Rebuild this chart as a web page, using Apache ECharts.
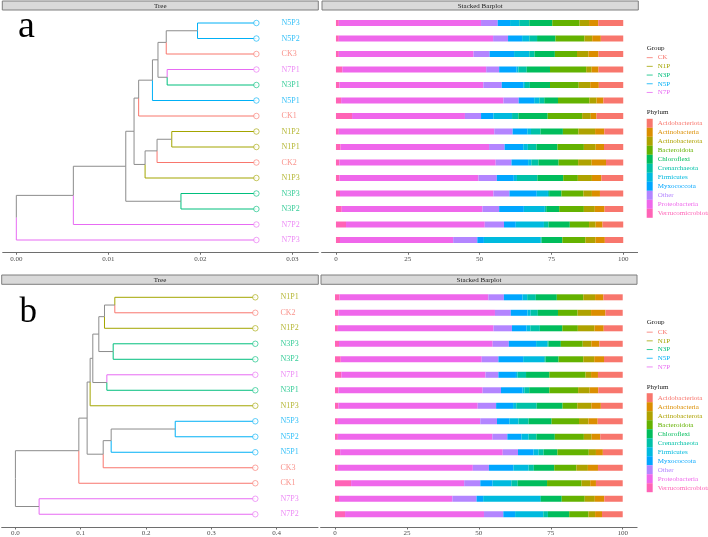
<!DOCTYPE html>
<html>
<head>
<meta charset="utf-8">
<script src="https://cdn.jsdelivr.net/npm/echarts@6/dist/echarts.min.js"></script>
<style>html,body{margin:0;padding:0;background:#fff}#c{width:708px;height:537px}</style>
</head>
<body>
<div id="c"></div>
<script>
// ---------- data ----------
const groupNames = ['CK', 'N1P', 'N3P', 'N5P', 'N7P'];
const groupColors = ['#F8766D', '#A3A500', '#00BF7D', '#00B0F6', '#E76BF3'];

// legend order (alphabetical); bars stack in reverse order from the left
const phylumNames = ['Acidobacteriota', 'Actinobacteria', 'Actinobacterota', 'Bacteroidota', 'Chloroflexi',
  'Crenarchaeota', 'Firmicutes', 'Myxococcota', 'Other', 'Proteobacteria', 'Verrucomicrobiota'];
const phylumColors = ['#F8766D', '#DB8E00', '#AEA200', '#64B200', '#00BD5C',
  '#00C1A7', '#00BADE', '#00A6FF', '#B385FF', '#EF67EB', '#FF63B6'];

const samples = ['N5P3', 'N5P2', 'CK3', 'N7P1', 'N3P1', 'N5P1', 'CK1', 'N1P2', 'N1P1', 'CK2', 'N1P3', 'N3P3', 'N3P2', 'N7P2', 'N7P3'];
const acidobacteriota   = [8.7, 7.8, 8.6, 8.6, 8.5, 6.9, 9.3, 6.6, 6.7, 6.0, 7.6, 8.1, 6.5, 7.2, 6.4];
const actinobacteria    = [3.2, 3.0, 3.5, 2.4, 3.0, 2.4, 2.0, 3.2, 2.9, 5.0, 3.3, 2.8, 3.4, 2.4, 3.3];
const actinobacterota   = [3.3, 2.7, 4.0, 1.9, 4.0, 2.5, 3.0, 5.8, 4.1, 4.7, 4.9, 3.0, 3.8, 2.3, 3.5];
const bacteroidota      = [9.5, 10.1, 7.7, 12.6, 10.0, 10.9, 12.0, 5.4, 9.2, 6.8, 5.1, 7.6, 8.6, 6.7, 8.0];
const chloroflexi       = [8.0, 6.4, 7.1, 8.1, 7.0, 4.8, 10.2, 7.8, 7.3, 7.0, 9.0, 4.3, 4.5, 7.4, 7.2];
const crenarchaeota     = [3.5, 2.7, 1.8, 2.9, 1.7, 1.7, 2.2, 3.3, 3.0, 2.5, 7.1, 0.4, 0.5, 1.6, 0.3];
const firmicutes        = [3.2, 2.5, 5.3, 0.6, 0.6, 1.8, 6.5, 1.3, 1.6, 1.1, 1.1, 3.9, 7.3, 9.8, 19.8];
const myxococcota       = [4.3, 4.9, 8.5, 6.1, 7.5, 5.4, 4.3, 5.1, 6.5, 5.8, 5.9, 9.5, 8.6, 4.1, 2.3];
const other             = [5.8, 5.2, 5.6, 4.5, 6.4, 5.3, 5.6, 6.4, 5.4, 5.5, 6.4, 5.6, 5.8, 6.7, 8.4];
const proteobacteria    = [49.5, 53.7, 46.9, 50.1, 50.1, 56.5, 39.3, 54.1, 51.7, 54.4, 48.4, 53.4, 49.0, 48.3, 39.4];
const verrucomicrobiota = [1.0, 1.0, 1.0, 2.2, 1.2, 1.8, 5.6, 1.0, 1.6, 1.2, 1.2, 1.4, 2.0, 3.5, 1.4];
const phylumValues = [acidobacteriota, actinobacteria, actinobacterota, bacteroidota, chloroflexi,
  crenarchaeota, firmicutes, myxococcota, other, proteobacteria, verrucomicrobiota];

// trees: [node x position, child1, child2]; leaves are sample names
const treeA = [0, [0.0062, [0.0119, [0.0128, [0.0133, [0.0148, [0.0154,
  [0.0163, [0.0197, 'N5P3', 'N5P2'], 'CK3'], [0.0164, 'N7P1', 'N3P1']], 'N5P1'], 'CK1'],
  [0.0140, [0.0153, [0.0169, 'N1P2', 'N1P1'], 'CK2'], 'N1P3']],
  [0.0179, 'N3P3', 'N3P2']], 'N7P2'], 'N7P3'];
const tipXA = 0.0261;
const treeB = [0, [0.0971, [0.1098, [0.1144, [0.1185, [0.1277,
  [0.1364, [0.1522, 'N1P1', 'CK2'], 'N1P2'], [0.1497, 'N3P3', 'N3P2']],
  [0.1400, 'N7P1', 'N3P1']], 'N1P3'],
  [0.1344, [0.1466, [0.2447, 'N5P3', 'N5P2'], 'N5P1'], 'CK3']], 'CK1'],
  [0.0363, 'N7P3', 'N7P2']];
const tipXB = 0.3673;

const treeATicks = [0, 0.01, 0.02, 0.03];
const treeBTicks = [0, 0.1, 0.2, 0.3, 0.4];
const barTicks = [0, 25, 50, 75, 100];

// ---------- helpers ----------
const FONT = "'Liberation Serif', 'Times New Roman', serif";
const EDGE_GRAY = '#8C8C8C';
const groupOf = s => s.replace(/\d+$/, '');
const colorOfGroup = g => groupColors[groupNames.indexOf(g)];

function layoutTree(tree, tipX) {
  const leaves = [];
  const edges = [];
  function walk(node) {
    if (typeof node === 'string') {
      const y = leaves.length;
      leaves.push(node);
      return { x: tipX, y: y, leaf: node };
    }
    const kids = node.slice(1).map(walk);
    const y = kids.reduce((a, k) => a + k.y, 0) / kids.length;
    const me = { x: node[0], y: y };
    kids.forEach(k => {
      edges.push({
        coords: [[me.x, me.y], [me.x, k.y], [k.x, k.y]],
        lineStyle: { color: k.leaf ? colorOfGroup(groupOf(k.leaf)) : EDGE_GRAY }
      });
    });
    return me;
  }
  walk(tree);
  return { leaves, edges };
}

const A = layoutTree(treeA, tipXA);
const B = layoutTree(treeB, tipXB);

function treeSeries(layout, tipX, axisIdx) {
  const out = [{
    type: 'lines', coordinateSystem: 'cartesian2d', xAxisIndex: axisIdx, yAxisIndex: axisIdx,
    polyline: true, silent: true, z: 2,
    lineStyle: { width: 1, opacity: 1 },
    data: layout.edges
  }];
  groupNames.forEach((g, gi) => {
    const data = [];
    layout.leaves.forEach((s, i) => { if (groupOf(s) === g) data.push({ name: s, value: [tipX, i] }); });
    out.push({
      type: 'scatter', name: g, xAxisIndex: axisIdx, yAxisIndex: axisIdx, z: 3,
      symbol: 'circle', symbolSize: 5.5,
      itemStyle: { color: '#FFFFFF', borderColor: groupColors[gi], borderWidth: 0.8 },
      label: { show: true, position: 'right', distance: 22, formatter: p => p.name,
        color: groupColors[gi], fontFamily: FONT, fontSize: 8 },
      data: data
    });
  });
  return out;
}

function barSeries(order, axisIdx, stack) {
  const out = [];
  for (let k = phylumNames.length - 1; k >= 0; k--) {
    const vals = phylumValues[k];
    out.push({
      type: 'bar', name: phylumNames[k], stack: stack, xAxisIndex: axisIdx, yAxisIndex: axisIdx,
      barWidth: 6, itemStyle: { color: phylumColors[k] },
      data: order.map(s => vals[samples.indexOf(s)])
    });
  }
  return out;
}

function xAxisCfg(grid, min, max, ticks, fmt, offset) {
  return {
    type: 'value', gridIndex: grid, min: min, max: max, offset: offset,
    axisLine: { show: true, onZero: false, lineStyle: { color: '#6E6E6E', width: 1 } },
    axisTick: { show: true, customValues: ticks, length: 2.5, lineStyle: { color: '#6E6E6E' } },
    axisLabel: { customValues: ticks, formatter: fmt, fontSize: 7, color: '#4D4D4D', margin: 3, fontFamily: FONT },
    splitLine: { show: false }
  };
}

const ROWH = 15.5;
const topA = 23 - ROWH / 2, topB = 297.3 - ROWH / 2;
const gridH = ROWH * 15;

function legendGroup(top) {
  return {
    orient: 'vertical', left: 646.7, top: top, padding: 0, itemGap: 0,
    itemWidth: 6, itemHeight: 1, selectedMode: false,
    textStyle: { fontSize: 7, fontFamily: FONT, lineHeight: 8.7 },
    data: groupNames.map((g, i) => ({ name: g, icon: 'rect',
      itemStyle: { color: groupColors[i], borderWidth: 0 }, textStyle: { color: groupColors[i] } }))
  };
}
function legendPhylum(top) {
  return {
    orient: 'vertical', left: 646.7, top: top, padding: 0, itemGap: 0,
    itemWidth: 6, itemHeight: 9, selectedMode: false,
    textStyle: { fontSize: 7, fontFamily: FONT, lineHeight: 9 },
    data: phylumNames.map((p, i) => ({ name: p, icon: 'rect',
      itemStyle: { color: phylumColors[i], borderWidth: 0 }, textStyle: { color: phylumColors[i] } }))
  };
}

function strip(x, y, w, h, text) {
  return [
    { type: 'rect', shape: { x: x, y: y, width: w, height: h },
      style: { fill: '#D9D9D9', stroke: '#7F7F7F', lineWidth: 1 }, z: 10 },
    { type: 'text', x: x + w / 2, y: y + h / 2 + 0.5,
      style: { text: text, fill: '#1A1A1A', font: '7px ' + FONT, align: 'center', verticalAlign: 'middle' }, z: 11 }
  ];
}
function title(x, y, text) {
  return { type: 'text', x: x, y: y, style: { text: text, fill: '#1A1A1A', font: '7px ' + FONT, align: 'left', verticalAlign: 'middle' }, z: 11 };
}

const option = {
  animation: false,
  backgroundColor: '#FFFFFF',
  grid: [
    { left: 2.7, top: topA, width: 315.6, height: gridH },
    { left: 321.6, top: topA, width: 316, height: gridH },
    { left: 1.7, top: topB, width: 316.3, height: gridH },
    { left: 320.6, top: topB, width: 316.5, height: gridH }
  ],
  xAxis: [
    xAxisCfg(0, -0.00148, 0.03283, treeATicks, v => v.toFixed(2), 4.5),
    xAxisCfg(1, -5, 105, barTicks, v => String(v), 4.5),
    xAxisCfg(2, -0.021, 0.4633, treeBTicks, v => v.toFixed(1), 5),
    xAxisCfg(3, -5, 105, barTicks, v => String(v), 5)
  ],
  yAxis: [
    { type: 'value', gridIndex: 0, min: -0.5, max: 14.5, inverse: true, show: false },
    { type: 'category', gridIndex: 1, data: A.leaves, inverse: true, show: false },
    { type: 'value', gridIndex: 2, min: -0.5, max: 14.5, inverse: true, show: false },
    { type: 'category', gridIndex: 3, data: B.leaves, inverse: true, show: false }
  ],
  legend: [legendGroup(53.3), legendPhylum(118.8), legendGroup(327.8), legendPhylum(393.2)],
  graphic: [].concat(
    strip(2.3, 1, 316, 9, 'Tree'),
    strip(322, 1, 316.3, 9, 'Stacked Barplot'),
    strip(1.7, 275, 316.6, 9.3, 'Tree'),
    strip(321, 275, 316, 9.3, 'Stacked Barplot'),
    [
      title(646.7, 48, 'Group'), title(646.7, 112.3, 'Phylum'),
      title(646.7, 322.3, 'Group'), title(646.7, 386.7, 'Phylum'),
      { type: 'text', x: 18, y: 27.5, style: { text: 'a', fill: '#000', font: '38px ' + FONT, align: 'left', verticalAlign: 'middle' }, z: 11 },
      { type: 'text', x: 19.5, y: 313, style: { text: 'b', fill: '#000', font: '35px ' + FONT, align: 'left', verticalAlign: 'middle' }, z: 11 }
    ]
  ),
  series: [].concat(
    treeSeries(A, tipXA, 0),
    barSeries(A.leaves, 1, 'a'),
    treeSeries(B, tipXB, 2),
    barSeries(B.leaves, 3, 'b')
  )
};

const chart = echarts.init(document.getElementById('c'), null, { renderer: 'canvas' });
chart.setOption(option);
</script>
</body>
</html>
